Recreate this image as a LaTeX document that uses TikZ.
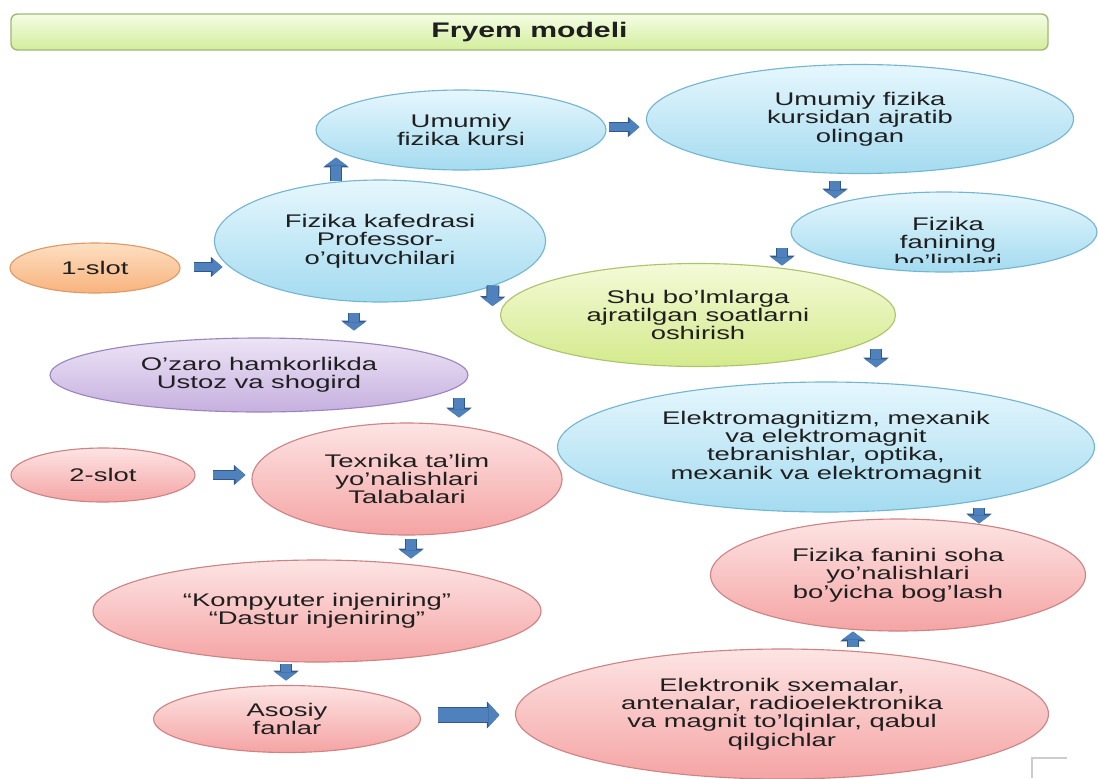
\documentclass[tikz,border=0pt]{standalone}
\usepackage{fontspec}
\newfontfamily\diagfont[FakeStretch=1.5]{Liberation Sans}
\newfontfamily\titlefont[FakeStretch=1.43]{Liberation Sans}
\usetikzlibrary{arrows.meta, shapes.geometric}
\definecolor{inkGray}{HTML}{1F1F1F}
\definecolor{blueTop}{HTML}{E6F7FD}
\definecolor{blueBot}{HTML}{A4DBF0}
\definecolor{blueLine}{HTML}{74B6D0}
\definecolor{orangeTop}{HTML}{FDDFC2}
\definecolor{orangeBot}{HTML}{F8B37C}
\definecolor{orangeLine}{HTML}{DE9A66}
\definecolor{greenTop}{HTML}{F4FAD8}
\definecolor{greenBot}{HTML}{D4EA8C}
\definecolor{greenLine}{HTML}{ADC46C}
\definecolor{purpleTop}{HTML}{EDE4F6}
\definecolor{purpleBot}{HTML}{C6B0DF}
\definecolor{purpleLine}{HTML}{9A86BC}
\definecolor{redTop}{HTML}{FDE4E4}
\definecolor{redBot}{HTML}{F5A4A4}
\definecolor{redLine}{HTML}{CD8484}
\definecolor{titleTop}{HTML}{F5FDE4}
\definecolor{titleBot}{HTML}{D2ED9C}
\definecolor{titleLine}{HTML}{A4B678}
\definecolor{arrowFill}{HTML}{4F81BD}
\definecolor{arrowLine}{HTML}{32578A}
\definecolor{cornerGray}{HTML}{CCCCCC}

\begin{document}
\begin{tikzpicture}[x=0.025cm, y=-0.025cm,
  txt/.style={inner sep=0pt, align=center, text=inkGray,
              font=\diagfont\fontsize{13}{13}\selectfont},
  oval/.style={txt, ellipse, line width=0.8pt},
  wh/.style 2 args={minimum width=#1*0.025cm, minimum height=#2*0.025cm},
  bluebox/.style={oval, top color=blueTop, bottom color=blueBot, draw=blueLine},
  orangebox/.style={oval, top color=orangeTop, bottom color=orangeBot, draw=orangeLine},
  greenbox/.style={oval, top color=greenTop, bottom color=greenBot, draw=greenLine},
  purplebox/.style={oval, top color=purpleTop, bottom color=purpleBot, draw=purpleLine},
  redbox/.style={oval, top color=redTop, bottom color=redBot, draw=redLine},
  titlebar/.style={rectangle, rounded corners=0.16cm, top color=titleTop,
                   bottom color=titleBot, draw=titleLine, line width=1pt,
                   inner sep=0pt, text=inkGray,
                   font=\titlefont\bfseries\fontsize{15}{15}\selectfont},
  harrow/.style={draw=arrowFill, line width=5.7pt,
                 -{Triangle[length=7pt, width=12pt, line width=0pt]},
                 preaction={draw=arrowLine, line width=7.1pt,
                 -{Triangle[length=8.2pt, width=14.4pt, line width=0pt]}}},
  varrow/.style={draw=arrowFill, line width=7.8pt,
                 -{Triangle[length=5.7pt, width=15.6pt, line width=0pt]},
                 preaction={draw=arrowLine, line width=9.2pt,
                 -{Triangle[length=6.9pt, width=18pt, line width=0pt]}}},
  bigarrow/.style={draw=arrowFill, line width=10pt,
                 -{Triangle[length=7.8pt, width=17pt, line width=0pt]},
                 preaction={draw=arrowLine, line width=11.4pt,
                 -{Triangle[length=9pt, width=19.4pt, line width=0pt]}}}]
  \useasboundingbox (0,0) rectangle (1098,778);
  \fill[white] (0,0) rectangle (1098,778);

  % title
  \node[titlebar, wh={1037}{36}] (title) at (529.5,32) {Fryem modeli};

  % slot 1 branch
  \node[orangebox, wh={170}{50}] (slot1) at (95,268) {1-slot};
  \node[bluebox, wh={331}{122}] (kafedra) at (380,241)
    {Fizika kafedrasi\\Professor-\\o’qituvchilari};
  \node[bluebox, wh={290}{80}] (umumiy) at (461,130) {Umumiy\\fizika kursi};
  \node[bluebox, wh={427}{109}] (ajratib) at (860,119)
    {Umumiy fizika\\kursidan ajratib\\olingan};
  \node[bluebox, wh={306}{80}] (bolim) at (944,232) {};
  \begin{scope}
    \clip (780,180) rectangle (1098,262);
    \node[txt, anchor=north] (bolimtext) at (948,217)
      {Fizika\\fanining\\bo’limlari};
  \end{scope}
  \node[greenbox, wh={395}{103}] (soat) at (698,315)
    {Shu bo’lmlarga\\ajratilgan soatlarni\\oshirish};
  \node[purplebox, wh={418}{74}] (ustoz) at (259,375)
    {O’zaro hamkorlikda\\Ustoz va shogird};

  % slot 2 branch
  \node[redbox, wh={184}{54}] (slot2) at (103,475) {2-slot};
  \node[redbox, wh={310}{112}] (talaba) at (407,479)
    {Texnika ta’lim\\yo’nalishlari\\Talabalari};
  \node[redbox, wh={448}{102}] (injener) at (317,611)
    {“Kompyuter injeniring”\\“Dastur injeniring”};
  \node[redbox, wh={267}{67}] (asosiy) at (287,719) {Asosiy\\fanlar};
  \node[bluebox, wh={537}{130}] (elektro) at (826,447)
    {Elektromagnitizm, mexanik\\va elektromagnit\\tebranishlar, optika,\\mexanik va elektromagnit};
  \node[redbox, wh={375}{112}] (soha) at (898,575)
    {Fizika fanini soha\\yo’nalishlari\\bo’yicha bog’lash};
  \node[redbox, wh={533}{130}] (sxema) at (782,714)
    {Elektronik sxemalar,\\antenalar, radioelektronika\\va magnit to’lqinlar, qabul\\qilgichlar};

  % block arrows
  \draw[harrow] ([shift={(13,-1)}]slot1.east) -- ([shift={(8.5,26)}]kafedra.west);
  \draw[varrow] ([shift={(-44,2)}]kafedra.north) -- ([shift={(-125,-13)}]umumiy.south);
  \draw[harrow] ([shift={(2,-3)}]umumiy.east) -- ([shift={(-6.5,8)}]ajratib.west);
  \draw[varrow] ([shift={(-25,6.5)}]ajratib.south) -- ([shift={(-109,7)}]bolim.north);
  \draw[varrow] ([shift={(-162,-25)}]bolim.south) -- ([shift={(84,2.5)}]soat.north);
  \draw[varrow] ([shift={(113,-17)}]kafedra.south) -- ([shift={(-7.5,-9)}]soat.west);
  \draw[varrow] ([shift={(-26,10)}]kafedra.south) -- ([shift={(95,-7)}]ustoz.north);
  \draw[varrow] ([shift={(200,-15)}]ustoz.south) -- ([shift={(52,-5)}]talaba.north);
  \draw[harrow] ([shift={(17,0)}]slot2.east) -- ([shift={(-6,-4)}]talaba.west);
  \draw[varrow] ([shift={(4,3)}]talaba.south) -- ([shift={(94,-1)}]injener.north);
  \draw[varrow] ([shift={(-31,1)}]injener.south) -- ([shift={(-1,-4.5)}]asosiy.north);
  \draw[bigarrow] ([shift={(16.5,-4)}]asosiy.east) -- ([shift={(-15.5,1)}]sxema.west);
  \draw[varrow] ([shift={(178,-18.5)}]soat.south) -- ([shift={(50,-14)}]elektro.north);
  \draw[varrow] ([shift={(153,-5)}]elektro.south) -- ([shift={(81,5)}]soha.north);
  \draw[varrow] ([shift={(71,-1)}]sxema.north) -- ([shift={(-45,0)}]soha.south);

  % corner mark
  \draw[cornerGray, line width=1.5pt] (1032,778) -- (1032,758) -- (1067,758);
\end{tikzpicture}
\end{document}
